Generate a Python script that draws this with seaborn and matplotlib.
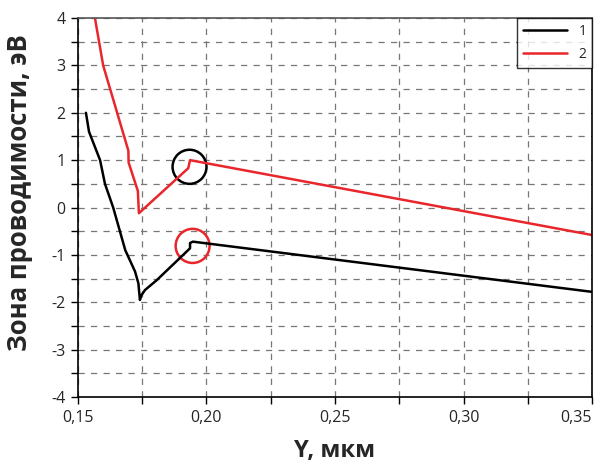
import numpy as np
import pandas as pd
import matplotlib
matplotlib.use("Agg")
import matplotlib.pyplot as plt
import seaborn as sns
from matplotlib.patches import Ellipse
from matplotlib.ticker import MultipleLocator, FuncFormatter

# curve 1 (black)
x1 = [0.1531, 0.1543, 0.1586, 0.1605, 0.1637, 0.1684, 0.1722, 0.1735, 0.1741,
      0.1747, 0.1761, 0.1807, 0.1936, 0.1936, 0.1947, 0.35]
y1 = [2.0, 1.6, 1.0, 0.5, 0.0, -0.9, -1.35, -1.6, -1.95,
      -1.85, -1.74, -1.53, -0.86, -0.75, -0.72, -1.78]
# curve 2 (red)
x2 = [0.1566, 0.1598, 0.1696, 0.1697, 0.1733, 0.1737, 0.1929, 0.1936, 0.35]
y2 = [4.0, 3.0, 1.2, 0.95, 0.35, -0.12, 0.83, 1.0, -0.58]
labels = ["1", "2"]
colors = ["#000000", "#e8262b"]

df = pd.concat([
    pd.DataFrame({"x": x1, "y": y1, "s": labels[0]}),
    pd.DataFrame({"x": x2, "y": y2, "s": labels[1]}),
])

sns.set_style("white")
plt.rcParams['font.family'] = ['Open Sans', 'DejaVu Sans']

fig = plt.figure(figsize=(5.98, 4.63), dpi=100)
ax = fig.add_axes([0.1304, 0.1425, 0.8596, 0.8185])

sns.lineplot(data=df, x="x", y="y", hue="s", sort=False, estimator=None,
             palette=dict(zip(labels, colors)), linewidth=1.8, ax=ax)

# circles marking the peaks
ax.add_patch(Ellipse((0.1934, 0.86), 0.0132, 0.72, fill=False, ec="black", lw=1.8))
ax.add_patch(Ellipse((0.1946, -0.81), 0.0132, 0.72, fill=False, ec=colors[1], lw=1.8))

ax.set_xlim(0.15, 0.35)
ax.set_ylim(-4, 4)
ax.xaxis.set_major_locator(MultipleLocator(0.05))
ax.xaxis.set_minor_locator(MultipleLocator(0.025))
ax.yaxis.set_major_locator(MultipleLocator(1))
ax.yaxis.set_minor_locator(MultipleLocator(0.5))
ax.xaxis.set_major_formatter(FuncFormatter(lambda v, p: f"{v:.2f}".replace(".", ",")))
ax.yaxis.set_major_formatter(FuncFormatter(lambda v, p: f"{v:.0f}"))

ax.grid(True, which="both", ls=(0, (5, 5)), color="#777777", lw=0.9)
ax.tick_params(which="both", direction="out", length=5, width=1, color="black",
               bottom=True, left=True, labelsize=11.5, pad=4)
for side in ["left", "bottom", "right", "top"]:
    ax.spines[side].set_color("black")
    ax.spines[side].set_linewidth(1.2)
ax.spines["top"].set_color("#555555")

# keep the last x tick label inside the figure
fig.canvas.draw()
for t in ax.xaxis.get_major_ticks():
    if abs(t.get_loc() - 0.35) < 1e-9:
        t.label1.set_horizontalalignment("right")

ax.set_xlabel("Y, мкм", fontsize=17, fontweight="bold")
ax.xaxis.set_label_coords(0.5, -0.11)
ax.set_ylabel("Зона проводимости, эВ", fontsize=18.5, fontweight="bold")
ax.yaxis.set_label_coords(-0.088, 0.54)

leg = ax.legend(loc="upper right", fontsize=10, frameon=True, fancybox=False,
                borderaxespad=0, handlelength=3.2, borderpad=0.4, labelspacing=0.6)
leg.get_frame().set_edgecolor("black")
leg.get_frame().set_linewidth(1.0)
leg.set_title(None)

fig.savefig("out.png", dpi=100)
